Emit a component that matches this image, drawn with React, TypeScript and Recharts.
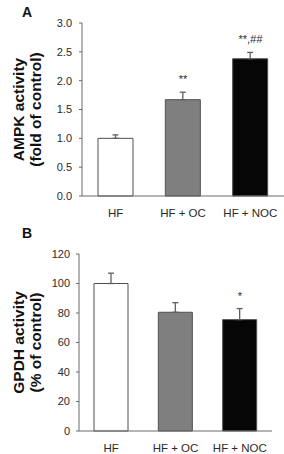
import React from 'react';
import { BarChart, Bar, XAxis, YAxis, ErrorBar, Cell, ReferenceDot } from 'recharts';

// Treatment groups shared by both panels
const groups = ['HF', 'HF + OC', 'HF + NOC'];
const barFills = ['#ffffff', '#7f7f7f', '#060606'];

// Panel A: AMPK activity (fold of control)
const ampkValues = [1.0, 1.67, 2.38];
const ampkErrors = [0.06, 0.13, 0.11];
const ampkMarks = ['', '**', '**,##'];
const ampkTicks = [0, 0.5, 1.0, 1.5, 2.0, 2.5, 3.0];

// Panel B: GPDH activity (% of control)
const gpdhValues = [100, 80.5, 75.5];
const gpdhErrors = [7, 6.5, 7.5];
const gpdhMarks = ['', '', '*'];
const gpdhTicks = [0, 20, 40, 60, 80, 100, 120];

// Band boundaries for the x-axis tick marks
const boundaryTicks = [0, 1, 2, 3];

const FONT = '"Liberation Sans", Arial, Helvetica, sans-serif';
const AXIS = '#6a6a6a';
const TEXT = '#2a2a2a';

type Row = { group: string; value: number; err: [number, number]; errTop: number; mark: string };

function buildRows(values: number[], errors: number[], marks: string[]): Row[] {
  return groups.map((g, i) => ({
    group: g,
    value: values[i],
    err: [0, errors[i]],
    errTop: values[i] + errors[i],
    mark: marks[i],
  }));
}

function markShape(mark: string) {
  return (p: any) => {
    const parts = mark.split(',');
    return (
      <text
        x={p.cx}
        y={p.cy - 9}
        textAnchor="middle"
        fontSize={11}
        fill={TEXT}
        fontFamily={FONT}
      >
        <tspan>{parts[0]}</tspan>
        {parts.length > 1 ? <tspan>,</tspan> : null}
        {parts.length > 1 ? <tspan fontStyle="italic">{parts[1]}</tspan> : null}
      </text>
    );
  };
}

function axisTitle(line1: string, line2: string, x1: number, x2: number) {
  return (props: any) => {
    const vb = props.viewBox || {};
    const cy = (vb.y || 0) + (vb.height || 0) / 2;
    const common = {
      textAnchor: 'middle' as const,
      dominantBaseline: 'central' as const,
      fontSize: 15.5,
      fontWeight: 700,
      fill: '#111',
      fontFamily: FONT,
    };
    return (
      <g>
        <text x={x1} y={cy} transform={`rotate(-90, ${x1}, ${cy})`} {...common}>
          {line1}
        </text>
        <text x={x2} y={cy} transform={`rotate(-90, ${x2}, ${cy})`} {...common}>
          {line2}
        </text>
      </g>
    );
  };
}

type PanelProps = {
  rows: Row[];
  height: number;
  margin: { top: number; right: number; bottom: number; left: number };
  yWidth: number;
  xHeight: number;
  domain: [number, number];
  ticks: number[];
  digits: number;
  tickMargin: number;
  barSize: number;
  title: [string, string];
};

function Panel({ rows, height, margin, yWidth, xHeight, domain, ticks, digits, tickMargin, barSize, title }: PanelProps) {
  return (
    <BarChart width={284} height={height} data={rows} margin={margin}>
      <XAxis
        xAxisId="bounds"
        type="number"
        domain={[0, 3]}
        ticks={boundaryTicks}
        height={0}
        axisLine={false}
        tickLine={{ stroke: AXIS }}
        tickSize={3}
        tick={() => <g />}
      />
      <XAxis
        xAxisId="cat"
        dataKey="group"
        type="category"
        height={xHeight}
        axisLine={{ stroke: AXIS }}
        tickLine={false}
        tickSize={3}
        tickMargin={10}
        interval={0}
        tick={{ fontSize: 11.5, fill: TEXT, fontFamily: FONT }}
      />
      <YAxis
        type="number"
        domain={domain}
        ticks={ticks}
        width={yWidth}
        axisLine={{ stroke: AXIS }}
        tickLine={{ stroke: AXIS }}
        tickSize={3}
        tickMargin={tickMargin}
        tickFormatter={(v: number) => v.toFixed(digits)}
        tick={{ fontSize: 11, fill: TEXT, fontFamily: FONT }}
        label={{ content: axisTitle(title[0], title[1], 18.5, 35) }}
      />
      <Bar
        dataKey="value"
        xAxisId="cat"
        barSize={barSize}
        stroke="#505050"
        strokeWidth={1}
        isAnimationActive={false}
      >
        {rows.map((r, i) => (
          <Cell key={r.group} fill={barFills[i]} />
        ))}
        <ErrorBar dataKey="err" width={3} stroke="#606060" strokeWidth={1.3} direction="y" />
      </Bar>
      {rows
        .filter((r) => r.mark)
        .map((r) => (
          <ReferenceDot
            key={r.group}
            xAxisId="cat"
            x={r.group}
            y={r.errTop}
            r={0}
            shape={markShape(r.mark)}
          />
        ))}
    </BarChart>
  );
}

const letterStyle: React.CSSProperties = {
  position: 'absolute',
  fontFamily: FONT,
  fontWeight: 700,
  fontSize: 14,
  color: '#111',
  lineHeight: '14px',
};

export default function App() {
  const ampkRows = buildRows(ampkValues, ampkErrors, ampkMarks);
  const gpdhRows = buildRows(gpdhValues, gpdhErrors, gpdhMarks);
  return (
    <div style={{ position: 'absolute', left: 0, top: 0, width: 284, height: 454, background: '#fff' }}>
      <div style={{ position: 'absolute', left: 0, top: 0 }}>
        <Panel
          rows={ampkRows}
          height={222}
          margin={{ top: 23, right: 0, bottom: 0, left: 0 }}
          yWidth={82}
          xHeight={26}
          domain={[0, 3]}
          ticks={ampkTicks}
          digits={1}
          tickMargin={7}
          barSize={35}
          title={['AMPK activity', '(fold of control)']}
        />
      </div>
      <div style={{ position: 'absolute', left: 0, top: 222 }}>
        <Panel
          rows={gpdhRows}
          height={232}
          margin={{ top: 32, right: 12, bottom: 0, left: 0 }}
          yWidth={79}
          xHeight={23}
          domain={[0, 120]}
          ticks={gpdhTicks}
          digits={0}
          tickMargin={6}
          barSize={34}
          title={['GPDH activity', '(% of control)']}
        />
      </div>
      <div style={{ ...letterStyle, left: 22, top: 5 }}>A</div>
      <div style={{ ...letterStyle, left: 22, top: 226 }}>B</div>
    </div>
  );
}
